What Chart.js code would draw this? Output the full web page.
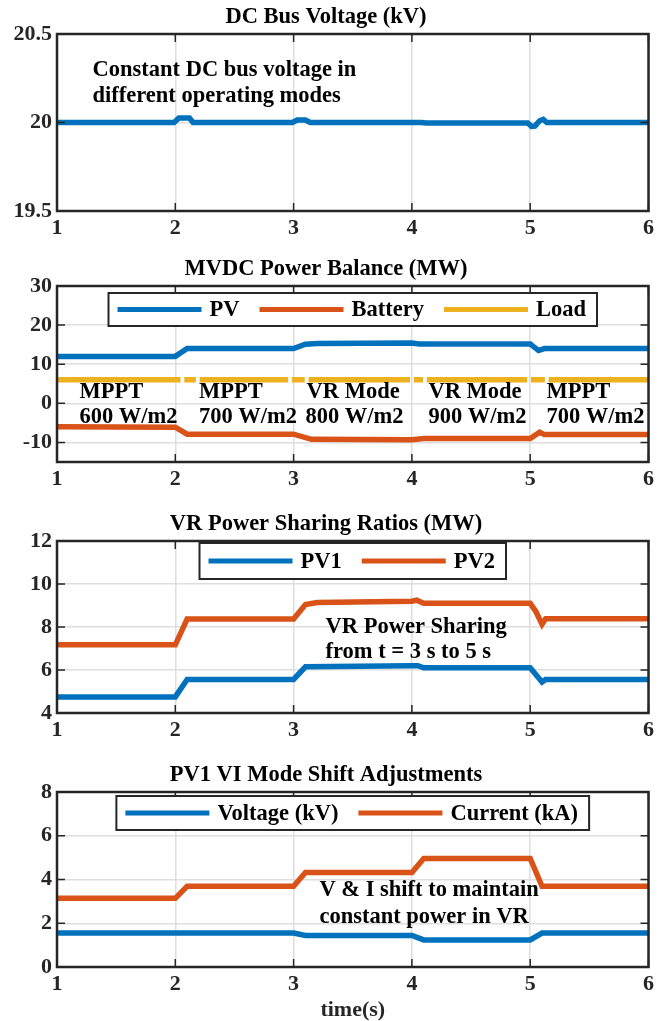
<!DOCTYPE html>
<html>
<head>
<meta charset="utf-8">
<script src="https://cdn.jsdelivr.net/npm/chart.js@4.4.1/dist/chart.umd.min.js"></script>
<style>
  html, body { margin: 0; padding: 0; background: #fff; overflow: hidden; }
  #wrap { position: relative; width: 658px; height: 1021px; }
  #wrap canvas { position: absolute; left: 0; }
</style>
</head>
<body>
<div id="wrap">
  <canvas id="bus" width="658" height="239" style="top:2px"></canvas>
  <canvas id="mvdc" width="658" height="238" style="top:254px"></canvas>
  <canvas id="share" width="658" height="234" style="top:509px"></canvas>
  <canvas id="vi" width="658" height="265" style="top:760px"></canvas>
</div>
<script>
// time axis (s)
const timeTicks = [1, 2, 3, 4, 5, 6];

// DC bus voltage (kV)
const busTicks = [19.5, 20, 20.5];
const busT  = [1, 1.99, 2.03, 2.12, 2.15, 2.99, 3.03, 3.10, 3.14, 4.08, 4.12, 4.98, 5.01, 5.04, 5.08, 5.11, 5.14, 6];
const busKV = [20, 20, 20.025, 20.025, 20, 20, 20.014, 20.014, 20, 20, 19.997, 19.997, 19.978, 19.98, 20.01, 20.018, 20, 20];

// MVDC power balance (MW)
const mvdcTicks = [-10, 0, 10, 20, 30];
const pvT   = [1, 2.0, 2.1, 3.0, 3.1, 3.2, 4.0, 4.06, 5.0, 5.07, 5.12, 6];
const pvMW  = [12, 12, 14, 14, 15.1, 15.3, 15.4, 15.2, 15.2, 13.5, 14, 14];
const batT  = [1, 2.0, 2.1, 3.0, 3.15, 4.0, 4.1, 5.0, 5.08, 5.12, 6];
const batMW = [-6, -6.1, -7.9, -7.9, -9.2, -9.3, -9.0, -9.0, -7.4, -8, -8];
const loadT  = [1, 2.044, 2.06, 2.076, 2.174, 2.19, 2.206, 2.954, 2.97, 2.986, 3.094, 3.11, 3.126,
                3.984, 4.0, 4.016, 4.094, 4.11, 4.126, 4.974, 4.99, 5.006, 5.124, 5.14, 5.156, 6];
const loadMW = [6, 6, null, 6, 6, null, 6, 6, null, 6, 6, null, 6,
                6, null, 6, 6, null, 6, 6, null, 6, 6, null, 6, 6];

// VR power sharing (MW)
const shareTicks = [4, 6, 8, 10, 12];
const pv1T  = [1, 2.0, 2.1, 3.0, 3.1, 4.0, 4.05, 4.1, 5.0, 5.1, 5.13, 6];
const pv1MW = [4.75, 4.75, 5.56, 5.56, 6.15, 6.2, 6.2, 6.1, 6.1, 5.44, 5.56, 5.56];
const pv2T  = [1, 2.0, 2.1, 3.0, 3.1, 3.2, 4.0, 4.04, 4.1, 5.0, 5.05, 5.1, 5.13, 6];
const pv2MW = [7.17, 7.17, 8.37, 8.37, 9.05, 9.14, 9.2, 9.25, 9.1, 9.1, 8.7, 8.12, 8.38, 8.38];

// PV1 voltage / current
const viTicks = [0, 2, 4, 6, 8];
const voltT  = [1, 3.0, 3.1, 4.0, 4.1, 5.0, 5.1, 6];
const voltKV = [1.55, 1.55, 1.44, 1.44, 1.24, 1.24, 1.55, 1.55];
const curT   = [1, 2.0, 2.1, 3.0, 3.1, 4.0, 4.1, 5.0, 5.1, 6];
const curKA  = [3.14, 3.14, 3.69, 3.69, 4.32, 4.32, 4.96, 4.96, 3.69, 3.69];

const BLUE = '#0072BD', ORANGE = '#D95319', YELLOW = '#EDB120';
const FAMILY = '"Liberation Serif", "Times New Roman", serif';
const FONT = 'bold 22.5px ' + FAMILY;

Chart.defaults.font.family = FAMILY;
Chart.defaults.font.size = 22;
Chart.defaults.font.weight = 'bold';
Chart.defaults.color = '#262626';

const pts = (ts, vs) => ts.map((t, i) => ({ x: t, y: vs[i] }));

const line = (label, ts, vs, color) => ({
  label,
  data: pts(ts, vs),
  borderColor: color,
  backgroundColor: color,
  borderWidth: 5.5,
  pointRadius: 0,
  tension: 0,
  spanGaps: false
});

// text notes placed in data units
const notes = {
  id: 'notes',
  afterDatasetsDraw(chart, args, opts) {
    const items = opts.items || [];
    const { ctx, scales: { x, y } } = chart;
    ctx.save();
    ctx.font = FONT;
    ctx.fillStyle = '#000';
    ctx.textAlign = 'left';
    ctx.textBaseline = 'middle';
    items.forEach(n => ctx.fillText(n.text, x.getPixelForValue(n.x), y.getPixelForValue(n.y)));
    ctx.restore();
  }
};

// matlab style box with inward ticks
const axesBox = {
  id: 'axesBox',
  afterDatasetsDraw(chart) {
    const { ctx, chartArea: a, scales: { x, y } } = chart;
    const len = 8;
    ctx.save();
    ctx.strokeStyle = '#262626';
    ctx.lineWidth = 1.5;
    ctx.beginPath();
    x.ticks.forEach(t => {
      const px = x.getPixelForValue(t.value);
      ctx.moveTo(px, a.bottom); ctx.lineTo(px, a.bottom - len);
      ctx.moveTo(px, a.top); ctx.lineTo(px, a.top + len);
    });
    y.ticks.forEach(t => {
      const py = y.getPixelForValue(t.value);
      ctx.moveTo(a.left, py); ctx.lineTo(a.left + len, py);
      ctx.moveTo(a.right, py); ctx.lineTo(a.right - len, py);
    });
    ctx.stroke();
    ctx.lineWidth = 2.5;
    ctx.strokeRect(a.left, a.top, a.right - a.left, a.bottom - a.top);
    ctx.restore();
  }
};

// boxed legend inside the plot, centred
const boxLegend = {
  id: 'boxLegend',
  afterDraw(chart, args, opts) {
    if (!opts.show) return;
    const { ctx, chartArea: a } = chart;
    const sample = 84, gap = 8, sep = 20, padL = 9, padR = 11;
    ctx.save();
    ctx.font = FONT;
    const items = chart.data.datasets
      .filter(d => d.label)
      .map(d => ({ label: d.label, color: d.borderColor, w: ctx.measureText(d.label).width }));
    let total = padL + padR;
    items.forEach((it, i) => { total += sample + gap + it.w + (i ? sep : 0); });
    const x0 = (a.left + a.right) / 2 - total / 2;
    const y0 = a.top + opts.top;
    const h = opts.height;
    ctx.fillStyle = '#fff';
    ctx.fillRect(x0, y0, total, h);
    ctx.lineWidth = 2;
    ctx.strokeStyle = '#262626';
    ctx.strokeRect(x0, y0, total, h);
    let x = x0 + padL;
    const yc = y0 + h / 2;
    items.forEach((it, i) => {
      if (i) x += sep;
      ctx.strokeStyle = it.color;
      ctx.lineWidth = 5;
      ctx.beginPath();
      ctx.moveTo(x, yc);
      ctx.lineTo(x + sample, yc);
      ctx.stroke();
      x += sample + gap;
      ctx.fillStyle = '#000';
      ctx.textBaseline = 'middle';
      ctx.fillText(it.label, x, yc + 1);
      x += it.w;
    });
    ctx.restore();
  }
};

Chart.register(notes, axesBox, boxLegend);

function makePanel(id, p) {
  return new Chart(document.getElementById(id), {
    type: 'line',
    data: { datasets: p.datasets },
    options: {
      responsive: false,
      animation: false,
      events: [],
      layout: { padding: { left: 0, right: 6, top: 0, bottom: 0 } },
      plugins: {
        legend: { display: false },
        tooltip: { enabled: false },
        title: {
          display: true,
          text: p.title,
          color: '#000',
          font: { size: 22.5, weight: 'bold' },
          padding: { top: 2, bottom: 3 }
        },
        notes: { items: p.notes || [] },
        boxLegend: p.legend || { show: false }
      },
      scales: {
        x: {
          type: 'linear',
          min: 1,
          max: 6,
          afterBuildTicks: s => { s.ticks = timeTicks.map(v => ({ value: v })); },
          afterFit: s => { s.height = p.xHeight; },
          border: { display: false },
          grid: { color: '#dedede', lineWidth: 1.5, drawTicks: false },
          ticks: { padding: 4, callback: v => String(v) },
          title: p.xTitle
            ? { display: true, text: p.xTitle, color: '#262626', font: { size: 22, weight: 'bold' }, padding: { top: 0, bottom: 1 } }
            : { display: false }
        },
        y: {
          type: 'linear',
          min: p.yMin,
          max: p.yMax,
          afterBuildTicks: s => { s.ticks = p.yTicks.map(v => ({ value: v })); },
          afterFit: s => { s.width = 57; },
          border: { display: false },
          grid: { color: '#dedede', lineWidth: 1.5, drawTicks: false },
          ticks: { padding: 5, callback: v => String(v) }
        }
      }
    }
  });
}

makePanel('bus', {
  title: 'DC Bus Voltage (kV)',
  datasets: [line('', busT, busKV, BLUE)],
  yMin: 19.5, yMax: 20.5, yTicks: busTicks,
  xHeight: 30,
  notes: [
    { x: 1.3, y: 20.295, text: 'Constant DC bus voltage in' },
    { x: 1.3, y: 20.148, text: 'different operating modes' }
  ]
});

makePanel('mvdc', {
  title: 'MVDC Power Balance (MW)',
  datasets: [
    line('PV', pvT, pvMW, BLUE),
    line('Battery', batT, batMW, ORANGE),
    line('Load', loadT, loadMW, YELLOW)
  ],
  yMin: -15, yMax: 30, yTicks: mvdcTicks,
  xHeight: 30,
  legend: { show: true, top: 7, height: 33 },
  notes: [
    { x: 1.19, y: 2.73, text: 'MPPT' },
    { x: 1.19, y: -3.67, text: '600 W/m2' },
    { x: 2.2, y: 2.73, text: 'MPPT' },
    { x: 2.2, y: -3.67, text: '700 W/m2' },
    { x: 3.11, y: 2.73, text: 'VR Mode' },
    { x: 3.1, y: -3.67, text: '800 W/m2' },
    { x: 4.14, y: 2.73, text: 'VR Mode' },
    { x: 4.14, y: -3.67, text: '900 W/m2' },
    { x: 5.137, y: 2.73, text: 'MPPT' },
    { x: 5.137, y: -3.67, text: '700 W/m2' }
  ]
});

makePanel('share', {
  title: 'VR Power Sharing Ratios (MW)',
  datasets: [
    line('PV1', pv1T, pv1MW, BLUE),
    line('PV2', pv2T, pv2MW, ORANGE)
  ],
  yMin: 4, yMax: 12, yTicks: shareTicks,
  xHeight: 30,
  legend: { show: true, top: 2, height: 36 },
  notes: [
    { x: 3.27, y: 7.99, text: 'VR Power Sharing' },
    { x: 3.27, y: 6.84, text: 'from t = 3 s to 5 s' }
  ]
});

makePanel('vi', {
  title: 'PV1 VI Mode Shift Adjustments',
  datasets: [
    line('Voltage (kV)', voltT, voltKV, BLUE),
    line('Current (kA)', curT, curKA, ORANGE)
  ],
  yMin: 0, yMax: 8, yTicks: viTicks,
  xHeight: 58,
  xTitle: 'time(s)',
  legend: { show: true, top: 4, height: 34 },
  notes: [
    { x: 3.218, y: 3.51, text: 'V & I shift to maintain' },
    { x: 3.218, y: 2.29, text: 'constant power in VR' }
  ]
});
</script>
</body>
</html>
